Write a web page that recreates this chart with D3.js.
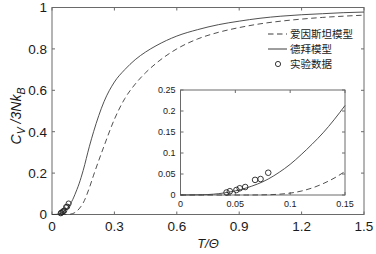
<!DOCTYPE html>
<html>
<head>
<meta charset="utf-8">
<script src="https://cdn.jsdelivr.net/npm/d3@7"></script>
<style>
  body { margin: 0; background: #fff; }
  svg { display: block; }
  text { font-family: "Liberation Sans", Arial, sans-serif; fill: #1a1a1a; }
  .cjk { font-family: "Noto Sans CJK SC", sans-serif; }
</style>
</head>
<body>
<div id="chart"></div>
<script>
// ---- data ----
var tGrid   = [0, 0.02, 0.04, 0.06, 0.08, 0.09, 0.1, 0.11, 0.12, 0.13, 0.14, 0.15, 0.18, 0.2, 0.25, 0.3, 0.35, 0.4, 0.45, 0.5, 0.6, 0.7, 0.8, 0.9, 1.0, 1.1, 1.2, 1.3, 1.4, 1.5];
var debyeC  = [0, 0.0006, 0.005, 0.0168, 0.038, 0.054, 0.073, 0.096, 0.121, 0.148, 0.179, 0.213, 0.33, 0.40, 0.545, 0.64, 0.70, 0.748, 0.785, 0.815, 0.862, 0.893, 0.917, 0.934, 0.948, 0.958, 0.965, 0.97, 0.975, 0.978];
var einstC  = [0, 0, 0, 0, 0.0006, 0.0019, 0.0045, 0.0093, 0.0167, 0.027, 0.040, 0.056, 0.13, 0.19, 0.33, 0.46, 0.56, 0.63, 0.685, 0.73, 0.80, 0.848, 0.88, 0.903, 0.921, 0.934, 0.944, 0.952, 0.958, 0.963];
var expT    = [0.042, 0.045, 0.051, 0.054, 0.059, 0.068, 0.073, 0.080];
var expC    = [0.006, 0.009, 0.012, 0.016, 0.019, 0.036, 0.038, 0.053];

var xTicks  = [0, 0.3, 0.6, 0.9, 1.2, 1.5];
var yTicks  = [0, 0.2, 0.4, 0.6, 0.8, 1];
var ixTicks = [0, 0.05, 0.1, 0.15];
var iyTicks = [0, 0.05, 0.1, 0.15, 0.2, 0.25];
var legendLabels = ['爱因斯坦模型', '德拜模型', '实验数据'];

// ---- set-up ----
var W = 376, H = 254;
var axisCol = '#6a6a6a', lineCol = '#3c3c3c';

var svg = d3.select('#chart').append('svg').attr('width', W).attr('height', H);

var x = d3.scaleLinear().domain([0, 1.5]).range([52, 364]);
var y = d3.scaleLinear().domain([0, 1]).range([214.5, 7.5]);

var ix = d3.scaleLinear().domain([0, 0.15]).range([180.5, 345]);
var iy = d3.scaleLinear().domain([0, 0.25]).range([195, 90]);

var pts = tGrid.map(function(t, i) { return {t: t, d: debyeC[i], e: einstC[i]}; });
var exp = expT.map(function(t, i) { return {t: t, c: expC[i]}; });

// draw one set of axes (box, inward ticks)
function drawAxes(g, xs, ys, xt, yt, fs, fmtX, fmtY, pad) {
  var x0 = xs.range()[0], x1 = xs.range()[1], y0 = ys.range()[0], y1 = ys.range()[1];
  g.append('rect').attr('x', x0).attr('y', y1).attr('width', x1 - x0).attr('height', y0 - y1)
    .attr('fill', '#fff').attr('stroke', axisCol).attr('stroke-width', 1);
  var tk = 3;
  xt.forEach(function(v) {
    g.append('line').attr('x1', xs(v)).attr('x2', xs(v)).attr('y1', y0).attr('y2', y0 - tk).attr('stroke', axisCol);
    g.append('line').attr('x1', xs(v)).attr('x2', xs(v)).attr('y1', y1).attr('y2', y1 + tk).attr('stroke', axisCol);
    g.append('text').attr('x', xs(v)).attr('y', y0 + pad[0]).attr('text-anchor', 'middle')
      .style('font-size', fs + 'px').text(fmtX(v));
  });
  yt.forEach(function(v) {
    g.append('line').attr('x1', x0).attr('x2', x0 + tk).attr('y1', ys(v)).attr('y2', ys(v)).attr('stroke', axisCol);
    g.append('line').attr('x1', x1).attr('x2', x1 - tk).attr('y1', ys(v)).attr('y2', ys(v)).attr('stroke', axisCol);
    g.append('text').attr('x', x0 - pad[1]).attr('y', ys(v)).attr('dy', '0.36em').attr('text-anchor', 'end')
      .style('font-size', fs + 'px').text(fmtY(v));
  });
}

function drawCurves(g, xs, ys, data) {
  var ld = d3.line().x(function(d) { return xs(d.t); }).y(function(d) { return ys(d.d); }).curve(d3.curveMonotoneX);
  var le = d3.line().x(function(d) { return xs(d.t); }).y(function(d) { return ys(d.e); }).curve(d3.curveMonotoneX);
  g.append('path').attr('d', le(data)).attr('fill', 'none').attr('stroke', lineCol)
    .attr('stroke-width', 0.9).attr('stroke-dasharray', '5.5,3.5');
  g.append('path').attr('d', ld(data)).attr('fill', 'none').attr('stroke', lineCol).attr('stroke-width', 0.9);
}

function drawExp(g, xs, ys, r) {
  g.selectAll(null).data(exp).enter().append('circle')
    .attr('cx', function(d) { return xs(d.t); })
    .attr('cy', function(d) { return ys(d.c); })
    .attr('r', r).attr('fill', 'none').attr('stroke', '#222').attr('stroke-width', 0.9);
}

var fmt = function(v) { return String(v); };

// ---- main plot ----
var main = svg.append('g');
drawAxes(main, x, y, xTicks, yTicks, 13.5, fmt, fmt, [16, 5]);
drawCurves(main, x, y, pts);
drawExp(main, x, y, 2.6);

// axis labels
svg.append('text').attr('x', 208).attr('y', 248).attr('text-anchor', 'middle')
  .style('font-size', '13px').style('font-style', 'italic').text('T/Θ');

var yl = svg.append('text').attr('transform', 'translate(21,116) rotate(-90)').attr('text-anchor', 'middle')
  .style('font-size', '14px');
yl.append('tspan').style('font-style', 'italic').text('C');
yl.append('tspan').attr('dy', 4).style('font-size', '10.5px').style('font-style', 'italic').text('V');
yl.append('tspan').attr('dy', -4).style('font-style', 'italic').text(' /3Nk');
yl.append('tspan').attr('dy', 4).style('font-size', '10.5px').style('font-style', 'italic').text('B');

// ---- legend ----
var lg = svg.append('g');
var lx = 268, ly = 34, lh = 15;
lg.append('line').attr('x1', lx).attr('x2', lx + 19).attr('y1', ly).attr('y2', ly)
  .attr('stroke', lineCol).attr('stroke-dasharray', '5.5,3.5');
lg.append('line').attr('x1', lx).attr('x2', lx + 19).attr('y1', ly + lh).attr('y2', ly + lh).attr('stroke', lineCol);
lg.append('circle').attr('cx', lx + 10).attr('cy', ly + 2 * lh).attr('r', 2.6)
  .attr('fill', 'none').attr('stroke', '#222').attr('stroke-width', 0.9);
legendLabels.forEach(function(s, i) {
  lg.append('text').attr('class', 'cjk').attr('x', lx + 22).attr('y', ly + i * lh).attr('dy', '0.36em')
    .style('font-size', '10.5px').text(s);
});

// ---- inset ----
var inset = svg.append('g');
drawAxes(inset, ix, iy, ixTicks, iyTicks, 9, fmt, fmt, [12, 5]);
drawCurves(inset, ix, iy, pts.filter(function(d) { return d.t <= 0.15; }));
drawExp(inset, ix, iy, 2.8);
</script>
</body>
</html>
